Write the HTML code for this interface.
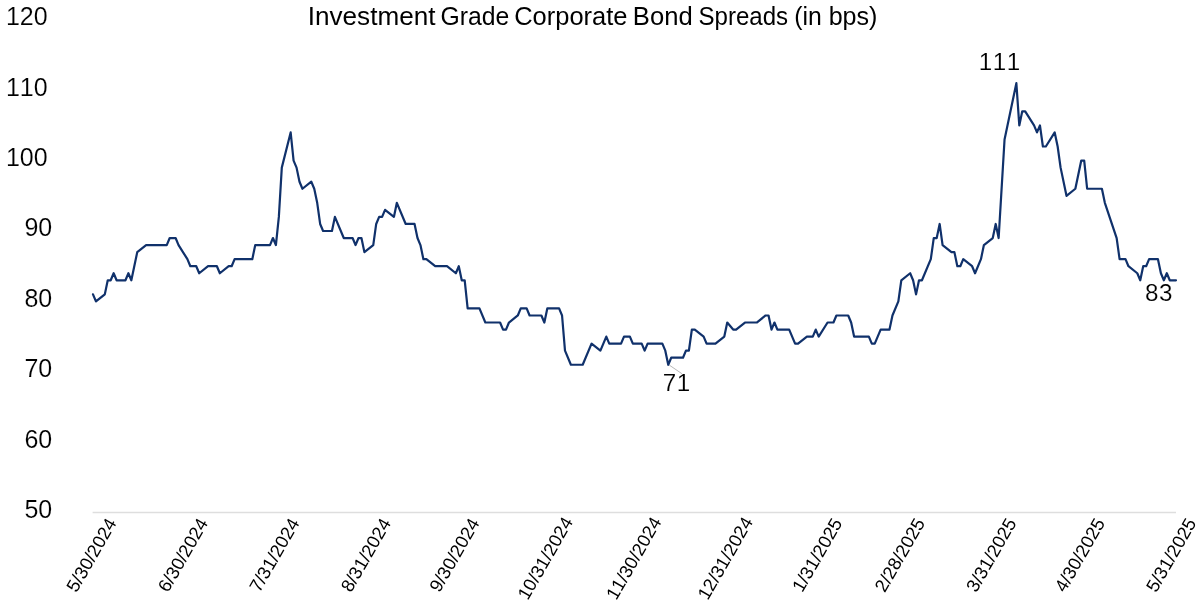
<!DOCTYPE html>
<html><head><meta charset="utf-8"><title>Investment Grade Corporate Bond Spreads</title>
<style>
html,body{margin:0;padding:0;background:#fff;}
body{width:1200px;height:600px;overflow:hidden;}
svg{display:block;font-family:"Liberation Sans",sans-serif;fill:#000;}
text{stroke:#fff;stroke-width:0.15px;font-kerning:none;}
.x text{stroke:none;}
.t{font-size:25px;stroke:none;}
.y text{font-size:25px;}
.x text{font-size:18.3px;}
.d text{font-size:24.2px;letter-spacing:0.6px;}
</style></head><body>
<svg width="1200" height="600" viewBox="0 0 1200 600">
<rect width="1200" height="600" fill="#fff"/>
<text class="t" y="24.5"><tspan x="307.81" textLength="127.64" lengthAdjust="spacingAndGlyphs">Investment</tspan> <tspan x="440.6" textLength="68.72" lengthAdjust="spacingAndGlyphs">Grade</tspan> <tspan x="514.24" textLength="113.21" lengthAdjust="spacingAndGlyphs">Corporate</tspan> <tspan x="632.89" textLength="59.8" lengthAdjust="spacingAndGlyphs">Bond</tspan> <tspan x="698.5" textLength="89.55" lengthAdjust="spacingAndGlyphs">Spreads</tspan> <tspan x="794.24" textLength="27.56" lengthAdjust="spacingAndGlyphs">(in</tspan> <tspan x="828.65" textLength="48.8" lengthAdjust="spacingAndGlyphs">bps)</tspan></text>
<g class="y">
<text x="52.2" y="517.9" text-anchor="end">50</text>
<text x="52.2" y="447.5" text-anchor="end">60</text>
<text x="52.2" y="377.1" text-anchor="end">70</text>
<text x="52.2" y="306.7" text-anchor="end">80</text>
<text x="52.2" y="236.3" text-anchor="end">90</text>
<text x="47.6" y="165.9" text-anchor="end">100</text>
<text x="47.6" y="95.5" text-anchor="end">110</text>
<text x="47.6" y="25.1" text-anchor="end">120</text>
</g>
<line x1="92.6" y1="512.6" x2="1176" y2="512.6" stroke="#dedede" stroke-width="1.5"/>
<g class="x">
<text transform="translate(117.2,522.9) rotate(-60)" text-anchor="end">5/30/2024</text>
<text transform="translate(208.7,522.9) rotate(-60)" text-anchor="end">6/30/2024</text>
<text transform="translate(300.1,522.9) rotate(-60)" text-anchor="end">7/31/2024</text>
<text transform="translate(391.6,522.9) rotate(-60)" text-anchor="end">8/31/2024</text>
<text transform="translate(480.1,522.9) rotate(-60)" text-anchor="end">9/30/2024</text>
<text transform="translate(573.5,521.6999999999999) rotate(-60)" text-anchor="end">10/31/2024</text>
<text transform="translate(662.0,521.6999999999999) rotate(-60)" text-anchor="end">11/30/2024</text>
<text transform="translate(753.5,521.6999999999999) rotate(-60)" text-anchor="end">12/31/2024</text>
<text transform="translate(842.9,522.9) rotate(-60)" text-anchor="end">1/31/2025</text>
<text transform="translate(925.5,522.9) rotate(-60)" text-anchor="end">2/28/2025</text>
<text transform="translate(1017.0,522.9) rotate(-60)" text-anchor="end">3/31/2025</text>
<text transform="translate(1105.5,522.9) rotate(-60)" text-anchor="end">4/30/2025</text>
<text transform="translate(1196.9,522.9) rotate(-60)" text-anchor="end">5/31/2025</text>
</g>
<line x1="669.3" y1="365.1" x2="681.9" y2="373.7" stroke="#a6a6a6" stroke-width="0.8"/>
<polyline points="93.00,294.36 95.95,301.40 104.80,294.36 107.75,280.28 110.70,280.28 113.65,273.24 116.60,280.28 125.45,280.28 128.40,273.24 131.35,280.28 137.25,252.12 146.10,245.08 166.75,245.08 169.70,238.04 175.60,238.04 178.55,245.08 187.40,259.16 190.35,266.20 196.25,266.20 199.20,273.24 208.05,266.20 216.90,266.20 219.85,273.24 228.70,266.20 231.65,266.20 234.60,259.16 252.30,259.16 255.25,245.08 270.00,245.08 272.95,238.04 275.90,245.08 278.85,216.92 281.80,167.64 290.65,132.44 293.60,160.60 296.55,167.64 299.50,181.72 302.45,188.76 311.30,181.72 314.25,188.76 317.20,202.84 320.15,223.96 323.10,231.00 331.95,231.00 334.90,216.92 343.75,238.04 352.60,238.04 355.55,245.08 358.50,238.04 361.45,238.04 364.40,252.12 373.25,245.08 376.20,223.96 379.15,216.92 382.10,216.92 385.05,209.88 393.90,216.92 396.85,202.84 405.70,223.96 414.55,223.96 417.50,238.04 420.45,245.08 423.40,259.16 426.35,259.16 435.20,266.20 447.00,266.20 455.85,273.24 458.80,266.20 461.75,280.28 464.70,280.28 467.65,308.44 479.45,308.44 485.35,322.52 500.10,322.52 503.05,329.56 506.00,329.56 508.95,322.52 517.80,315.48 520.75,308.44 526.65,308.44 529.60,315.48 541.40,315.48 544.35,322.52 547.30,308.44 559.10,308.44 562.05,315.48 565.00,350.68 570.90,364.76 582.70,364.76 591.55,343.64 600.40,350.68 606.30,336.60 609.25,343.64 621.05,343.64 624.00,336.60 629.90,336.60 632.85,343.64 641.70,343.64 644.65,350.68 647.60,343.64 662.35,343.64 665.30,350.68 668.25,364.76 671.20,357.72 683.00,357.72 685.95,350.68 688.90,350.68 691.85,329.56 694.80,329.56 703.65,336.60 706.60,343.64 715.45,343.64 724.30,336.60 727.25,322.52 733.15,329.56 736.10,329.56 744.95,322.52 756.75,322.52 765.60,315.48 768.55,315.48 771.50,329.56 774.45,322.52 777.40,329.56 789.20,329.56 795.10,343.64 798.05,343.64 806.90,336.60 812.80,336.60 815.75,329.56 818.70,336.60 827.55,322.52 833.45,322.52 836.40,315.48 848.20,315.48 851.15,322.52 854.10,336.60 868.85,336.60 871.80,343.64 874.75,343.64 880.65,329.56 889.50,329.56 892.45,315.48 898.35,301.40 901.30,280.28 910.15,273.24 913.10,280.28 916.05,294.36 919.00,280.28 921.95,280.28 930.80,259.16 933.75,238.04 936.70,238.04 939.65,223.96 942.60,245.08 951.45,252.12 954.40,252.12 957.35,266.20 960.30,266.20 963.25,259.16 972.10,266.20 975.05,273.24 980.95,259.16 983.90,245.08 992.75,238.04 995.70,223.96 998.65,238.04 1004.55,139.48 1016.35,83.16 1019.30,125.40 1022.25,111.32 1025.20,111.32 1034.05,125.40 1037.00,132.44 1039.95,125.40 1042.90,146.52 1045.85,146.52 1054.70,132.44 1057.65,146.52 1060.60,167.64 1066.50,195.80 1075.35,188.76 1081.25,160.60 1084.20,160.60 1087.15,188.76 1101.90,188.76 1104.85,202.84 1116.65,238.04 1119.60,259.16 1125.50,259.16 1128.45,266.20 1137.30,273.24 1140.25,280.28 1143.20,266.20 1146.15,266.20 1149.10,259.16 1157.95,259.16 1160.90,273.24 1163.85,280.28 1166.80,273.24 1169.75,280.28 1176.00,280.28" fill="none" stroke="#10316b" stroke-width="2.2" stroke-linejoin="round" stroke-linecap="round"/>
<g class="d">
<text x="999.8" y="70" text-anchor="middle">111</text>
<text x="676.7" y="390.9" text-anchor="middle">71</text>
<text x="1159.1" y="301.3" text-anchor="middle">83</text>
</g>
</svg>
</body></html>
